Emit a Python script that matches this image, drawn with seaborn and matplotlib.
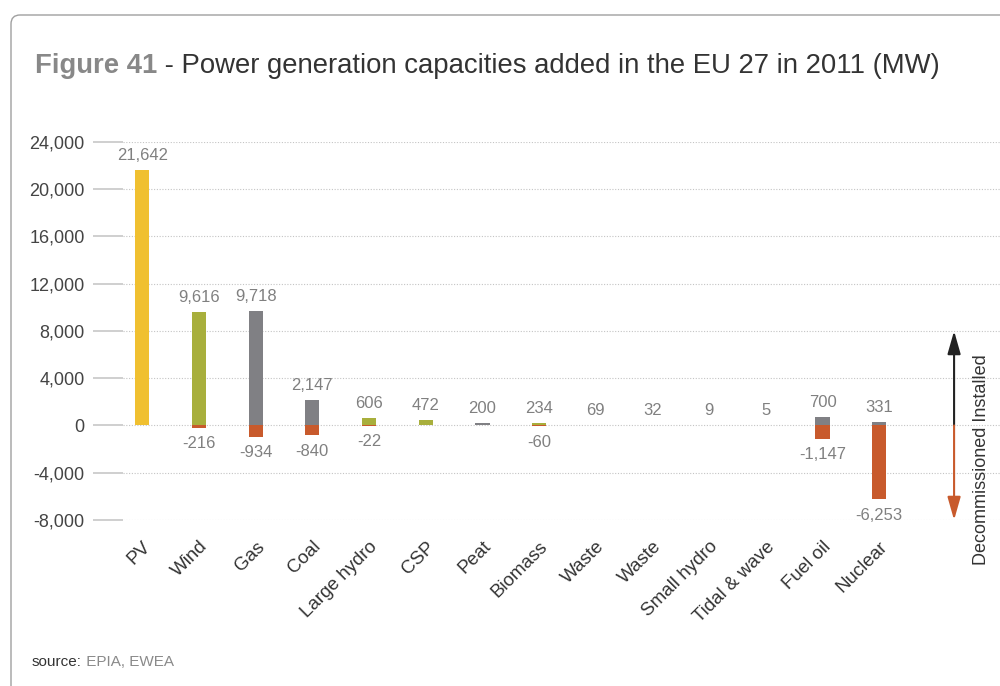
from pathlib import Path

import matplotlib

matplotlib.use("Agg")

import matplotlib.pyplot as plt
import matplotlib.transforms as mtransforms
import pandas as pd
import seaborn as sns
from matplotlib.patches import FancyBboxPatch


OUTPUT_PATH = Path("out.png")

# Data (MW)
categories = [
    "PV", "Wind", "Gas", "Coal", "Large hydro", "CSP", "Peat", "Biomass",
    "Waste", "Waste", "Small hydro", "Tidal & wave", "Fuel oil", "Nuclear",
]
installed = [21642, 9616, 9718, 2147, 606, 472, 200, 234, 69, 32, 9, 5, 700, 331]
decommissioned = [0, -216, -934, -840, -22, 0, 0, -60, 0, 0, 0, 0, -1147, -6253]
bar_colors = [
    "#F0C030", "#A8AF3C", "#808084", "#808084", "#A8AF3C", "#A8AF3C", "#808084",
    "#A8AF3C", "#808084", "#A8AF3C", "#A8AF3C", "#808084", "#808084", "#808084",
]
y_ticks = [-8000, -4000, 0, 4000, 8000, 12000, 16000, 20000, 24000]

ORANGE = "#C85A2C"
LABEL_GREY = "#808080"
TEXT_DARK = "#333333"


def main() -> None:
    df = pd.DataFrame(
        {
            "key": [str(i) for i in range(len(categories))],
            "label": categories,
            "installed": installed,
            "decommissioned": decommissioned,
            "color": bar_colors,
        }
    )

    sns.set_style("white")
    plt.rcParams["font.family"] = ["Liberation Sans", "DejaVu Sans"]

    fig = plt.figure(figsize=(10, 6.86), dpi=100)
    ax = fig.add_axes([0.123, 0.242, 0.877, 0.551])

    palette = dict(zip(df["key"], df["color"]))
    sns.barplot(
        data=df, x="key", y="installed", hue="key", palette=palette,
        legend=False, dodge=False, width=0.25, linewidth=0, saturation=1,
        ax=ax,
    )
    sns.barplot(
        data=df, x="key", y="decommissioned", color=ORANGE,
        width=0.25, linewidth=0, saturation=1, ax=ax,
    )

    # value labels
    for i, row in df.iterrows():
        ax.annotate(
            f"{row['installed']:,}", xy=(i, row["installed"]), xytext=(0, 5),
            textcoords="offset points", ha="center", va="bottom",
            fontsize=12, color=LABEL_GREY, annotation_clip=False,
        )
        if row["decommissioned"] < 0:
            ax.annotate(
                f"{row['decommissioned']:,}", xy=(i, row["decommissioned"]),
                xytext=(0, -6), textcoords="offset points", ha="center",
                va="top", fontsize=12, color=LABEL_GREY, annotation_clip=False,
            )

    ax.set_ylim(y_ticks[0], y_ticks[-1])
    ax.set_xlim(-0.34, len(categories) + 1.13)
    ax.set_yticks(y_ticks)
    ax.set_yticklabels([f"{t:,}" for t in y_ticks])
    ax.set_xticks(range(len(categories)))
    ax.set_xticklabels(categories, rotation=45, ha="right", rotation_mode="anchor")
    ax.set_xlabel("")
    ax.set_ylabel("")

    ax.yaxis.grid(True, linestyle=(0, (1, 1.5)), color="#c4c4c4", linewidth=0.8)
    ax.xaxis.grid(False)
    ax.set_axisbelow(True)
    for spine in ax.spines.values():
        spine.set_visible(False)
    ax.tick_params(
        axis="y", length=21.6, width=1.3, color="#cccccc", pad=6,
        labelsize=13, labelcolor="#444444", left=True,
    )
    ax.tick_params(axis="x", length=0, pad=13, labelsize=13.5, labelcolor=TEXT_DARK)

    # installed / decommissioned arrow
    arrow_x = len(categories) + 0.32
    ax.annotate(
        "", xy=(arrow_x, 8000), xytext=(arrow_x, 0),
        arrowprops=dict(arrowstyle="-|>,head_length=0.7,head_width=0.2",
                        color="#222222", lw=1.5, mutation_scale=20,
                        shrinkA=0, shrinkB=0),
        annotation_clip=False,
    )
    ax.annotate(
        "", xy=(arrow_x, -8000), xytext=(arrow_x, 0),
        arrowprops=dict(arrowstyle="-|>,head_length=0.7,head_width=0.2",
                        color=ORANGE, lw=1.5, mutation_scale=20,
                        shrinkA=0, shrinkB=0),
        annotation_clip=False,
    )
    ax.text(
        arrow_x + 0.48, -2900, "Decommissioned Installed", rotation=90,
        ha="center", va="center", fontsize=13, color=TEXT_DARK, clip_on=False,
    )

    # card frame
    frame = FancyBboxPatch(
        (11, -30), 1030, 30 + 686 - 15,
        boxstyle="round,pad=0,rounding_size=9",
        transform=mtransforms.IdentityTransform(),
        facecolor="none", edgecolor="#a0a0a0", linewidth=1.0,
    )
    fig.add_artist(frame)

    # title
    head = fig.text(
        0.035, 0.8936, "Figure 41", fontsize=19.8, fontweight="bold",
        color="#888888", va="baseline", ha="left",
    )
    ax.annotate(
        " - Power generation capacities added in the EU 27 in 2011 (MW)",
        xy=(1, 0), xycoords=head, va="bottom", ha="left",
        fontsize=19.8, color=TEXT_DARK, annotation_clip=False,
    )

    # source
    src = fig.text(
        0.032, (686 - 666) / 686, "source:", fontsize=11,
        color=TEXT_DARK, va="baseline", ha="left",
    )
    ax.annotate(
        " EPIA, EWEA", xy=(1, 0), xycoords=src, va="bottom", ha="left",
        fontsize=11, color="#8a8a8a", annotation_clip=False,
    )

    fig.savefig(OUTPUT_PATH, dpi=100)


if __name__ == "__main__":
    main()
